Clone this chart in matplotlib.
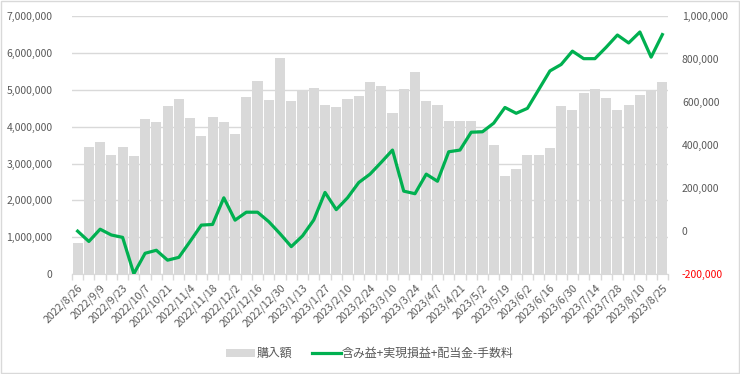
import matplotlib
matplotlib.use("Agg")
import matplotlib.pyplot as plt
import numpy as np
from matplotlib.patches import Patch, Rectangle
from matplotlib.lines import Line2D
from matplotlib.ticker import FuncFormatter, FixedLocator

plt.rcParams['font.family'] = ['Noto Sans CJK JP', 'DejaVu Sans']

# 週次の日付（カテゴリ）
dates = [
    "2022/8/26", "2022/9/2", "2022/9/9", "2022/9/16", "2022/9/23", "2022/9/30",
    "2022/10/7", "2022/10/14", "2022/10/21", "2022/10/28", "2022/11/4", "2022/11/11",
    "2022/11/18", "2022/11/25", "2022/12/2", "2022/12/9", "2022/12/16", "2022/12/23",
    "2022/12/30", "2023/1/6", "2023/1/13", "2023/1/20", "2023/1/27", "2023/2/3",
    "2023/2/10", "2023/2/17", "2023/2/24", "2023/3/3", "2023/3/10", "2023/3/17",
    "2023/3/24", "2023/3/31", "2023/4/7", "2023/4/14", "2023/4/21", "2023/4/28",
    "2023/5/2", "2023/5/12", "2023/5/19", "2023/5/26", "2023/6/2", "2023/6/9",
    "2023/6/16", "2023/6/23", "2023/6/30", "2023/7/7", "2023/7/14", "2023/7/21",
    "2023/7/28", "2023/8/4", "2023/8/10", "2023/8/18", "2023/8/25",
]

# 購入額（左軸）
purchase = [
    840000, 3440000, 3590000, 3240000, 3440000, 3200000, 4200000, 4140000, 4570000,
    4740000, 4230000, 3760000, 4270000, 4120000, 3810000, 4810000, 5230000, 4730000,
    5860000, 4710000, 4990000, 5060000, 4590000, 4540000, 4760000, 4840000, 5200000,
    5090000, 4380000, 5010000, 5490000, 4710000, 4590000, 4160000, 4160000, 4160000,
    3910000, 3510000, 2650000, 2860000, 3240000, 3230000, 3410000, 4570000, 4440000,
    4920000, 5030000, 4790000, 4440000, 4590000, 4850000, 5000000, 5220000,
]

# 含み益+実現損益+配当金-手数料（右軸）
profit = [
    0, -48000, 9000, -18000, -29000, -198000, -103000, -89000, -135000,
    -122000, -48000, 28000, 31000, 155000, 51000, 88000, 88000, 44000,
    -12000, -72000, -22000, 52000, 180000, 100000, 155000, 226000, 265000,
    320000, 377000, 186000, 174000, 265000, 232000, 369000, 377000, 460000,
    462000, 502000, 575000, 548000, 571000, 658000, 745000, 775000, 837000,
    802000, 802000, 855000, 912000, 875000, 926000, 809000, 914000,
]

text_color = "#595959"
grid_color = "#d9d9d9"
bar_color = "#d9d9d9"
line_color = "#00b050"

fig = plt.figure(figsize=(7.4, 3.74), dpi=100)
ax = fig.add_axes([0.0973, 0.267, 0.8054, 0.690])

x = np.arange(len(dates))
ax.bar(x, purchase, width=0.9, color=bar_color, zorder=2)
ax.set_xlim(-0.5, len(dates) - 0.5)
ax.set_ylim(0, 7000000)
ax.set_yticks(np.arange(0, 7000001, 1000000))
ax.yaxis.set_major_formatter(FuncFormatter(lambda v, p: f"{int(v):,}"))
ax.grid(axis="y", color=grid_color, linewidth=1.0, zorder=0)
ax.set_axisbelow(True)

ax.set_xticks(x[::2])
ax.set_xticklabels(dates[::2], rotation=45, ha="right", va="top",
                   rotation_mode="anchor", fontsize=7.7, color=text_color)
ax.tick_params(axis="x", which="major", length=0, pad=6)
ax.xaxis.set_minor_locator(FixedLocator(np.arange(-0.5, len(dates), 1.0)))
ax.tick_params(axis="x", which="minor", length=4, color=grid_color, width=1)
ax.tick_params(axis="y", length=0, labelsize=7.5, labelcolor=text_color, pad=14)

for s in ["top", "right", "left"]:
    ax.spines[s].set_visible(False)
ax.spines["bottom"].set_color(grid_color)

ax2 = ax.twinx()
ax2.plot(x, profit, color=line_color, linewidth=2.3, zorder=3, solid_joinstyle="round")
ax2.set_ylim(-200000, 1000000)
ax2.set_yticks(np.arange(-200000, 1000001, 200000))
ax2.yaxis.set_major_formatter(FuncFormatter(lambda v, p: f"{int(v):,}"))
ax2.tick_params(axis="y", length=0, labelsize=7.5, labelcolor=text_color, pad=10)
for lbl in ax2.get_yticklabels():
    if lbl.get_text().startswith("-"):
        lbl.set_color("red")
for s in ["top", "right", "left", "bottom"]:
    ax2.spines[s].set_visible(False)

handles = [
    Patch(facecolor=bar_color, edgecolor="none"),
    Line2D([0], [0], color=line_color, linewidth=2.3),
]
labels = ["購入額", "含み益+実現損益+配当金-手数料"]
fig.legend(handles, labels, loc="center", bbox_to_anchor=(0.5, 0.055), ncol=2,
           frameon=False, fontsize=8.6, labelcolor=text_color,
           handlelength=2.4, handletextpad=0.1, columnspacing=1.7)

fig.patches.append(Rectangle((0.001, 0.002), 0.997, 0.995, transform=fig.transFigure,
                             fill=False, edgecolor=grid_color, linewidth=1.0))

fig.savefig("out.png", dpi=100, facecolor="white")
